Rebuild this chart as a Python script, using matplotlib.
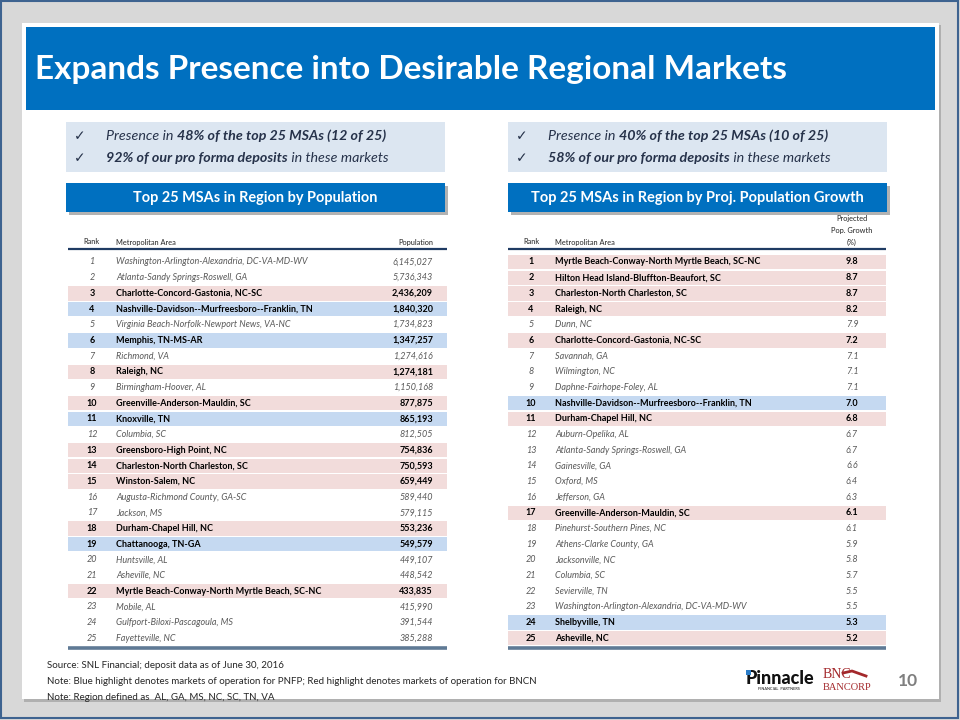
import matplotlib
matplotlib.use("Agg")
import matplotlib.pyplot as plt
from matplotlib.patches import Rectangle, FancyBboxPatch

# ---------------- data ----------------
title = "Expands Presence into Desirable Regional Markets"

pop_ranks = list(range(1, 26))
pop_areas = [
    "Washington-Arlington-Alexandria, DC-VA-MD-WV",
    "Atlanta-Sandy Springs-Roswell, GA",
    "Charlotte-Concord-Gastonia, NC-SC",
    "Nashville-Davidson--Murfreesboro--Franklin, TN",
    "Virginia Beach-Norfolk-Newport News, VA-NC",
    "Memphis, TN-MS-AR",
    "Richmond, VA",
    "Raleigh, NC",
    "Birmingham-Hoover, AL",
    "Greenville-Anderson-Mauldin, SC",
    "Knoxville, TN",
    "Columbia, SC",
    "Greensboro-High Point, NC",
    "Charleston-North Charleston, SC",
    "Winston-Salem, NC",
    "Augusta-Richmond County, GA-SC",
    "Jackson, MS",
    "Durham-Chapel Hill, NC",
    "Chattanooga, TN-GA",
    "Huntsville, AL",
    "Asheville, NC",
    "Myrtle Beach-Conway-North Myrtle Beach, SC-NC",
    "Mobile, AL",
    "Gulfport-Biloxi-Pascagoula, MS",
    "Fayetteville, NC",
]
pop_values = [6145027, 5736343, 2436209, 1840320, 1734823, 1347257, 1274616,
              1274181, 1150168, 877875, 865193, 812505, 754836, 750593, 659449,
              589440, 579115, 553236, 549579, 449107, 448542, 433835, 415990,
              391544, 385288]
# '' none, 'B' = PNFP (blue), 'R' = BNCN (red)
pop_highlight = ['', '', 'R', 'B', '', 'B', '', 'R', '', 'R', 'B', '', 'R', 'R',
                 'R', '', '', 'R', 'B', '', '', 'R', '', '', '']

growth_ranks = list(range(1, 26))
growth_areas = [
    "Myrtle Beach-Conway-North Myrtle Beach, SC-NC",
    "Hilton Head Island-Bluffton-Beaufort, SC",
    "Charleston-North Charleston, SC",
    "Raleigh, NC",
    "Dunn, NC",
    "Charlotte-Concord-Gastonia, NC-SC",
    "Savannah, GA",
    "Wilmington, NC",
    "Daphne-Fairhope-Foley, AL",
    "Nashville-Davidson--Murfreesboro--Franklin, TN",
    "Durham-Chapel Hill, NC",
    "Auburn-Opelika, AL",
    "Atlanta-Sandy Springs-Roswell, GA",
    "Gainesville, GA",
    "Oxford, MS",
    "Jefferson, GA",
    "Greenville-Anderson-Mauldin, SC",
    "Pinehurst-Southern Pines, NC",
    "Athens-Clarke County, GA",
    "Jacksonville, NC",
    "Columbia, SC",
    "Sevierville, TN",
    "Washington-Arlington-Alexandria, DC-VA-MD-WV",
    "Shelbyville, TN",
    "Asheville, NC",
]
growth_values = [9.8, 8.7, 8.7, 8.2, 7.9, 7.2, 7.1, 7.1, 7.1, 7.0, 6.8, 6.7, 6.7,
                 6.6, 6.4, 6.3, 6.1, 6.1, 5.9, 5.8, 5.7, 5.5, 5.5, 5.3, 5.2]
growth_highlight = ['R', 'R', 'R', 'R', '', 'R', '', '', '', 'B', 'R', '', '', '',
                    '', '', 'R', '', '', '', '', '', '', 'B', 'R']

bullets_left = [
    [("Presence in ", "normal"), ("48% of the top 25 MSAs (12 of 25)", "bold")],
    [("92% of our pro forma deposits", "bold"), (" in these markets", "normal")],
]
bullets_right = [
    [("Presence in ", "normal"), ("40% of the top 25 MSAs (10 of 25)", "bold")],
    [("58% of our pro forma deposits", "bold"), (" in these markets", "normal")],
]
header_left = "Top 25 MSAs in Region by Population"
header_right = "Top 25 MSAs in Region by Proj. Population Growth"
footnotes = [
    "Source: SNL Financial; deposit data as of June 30, 2016",
    "Note: Blue highlight denotes markets of operation for PNFP; Red highlight denotes markets of operation for BNCN",
    "Note: Region defined as  AL, GA, MS, NC, SC, TN, VA",
]
page_number = "10"

# ---------------- style ----------------
FONT = ["Lato", "DejaVu Sans"]
plt.rcParams['font.family'] = FONT
BLUE = "#0070C0"
BOX = "#DCE6F1"
RED_HL = "#F2DCDB"
BLUE_HL = "#C5D9F1"
NAVY = "#1F3B63"
BOTTOM = "#5F7A95"
TXT = "#26324A"

fig = plt.figure(figsize=(9.6, 7.2), dpi=100, facecolor="#D8D8D8")
ax = fig.add_axes([0, 0, 1, 1])
ax.set_xlim(0, 960)
ax.set_ylim(720, 0)
ax.axis('off')
renderer = fig.canvas.get_renderer()


def width_of(t):
    bb = t.get_window_extent(renderer=renderer)
    return bb.width


def fit_text(x, y, s, target_w, size_guess=10, **kw):
    t = ax.text(x, y, s, fontsize=size_guess, **kw)
    w = width_of(t)
    t.set_fontsize(size_guess * target_w / w)
    return t


def fit_size(s, target_w, **kw):
    t = ax.text(0, 0, s, fontsize=10, **kw)
    w = width_of(t)
    t.remove()
    return 10 * target_w / w


def rich_line(x, y, parts, size, color, style="italic"):
    cx = x
    for s, wgt in parts:
        t = ax.text(cx, y, s, fontsize=size, color=color, fontweight=wgt,
                    fontstyle=style, va='center', ha='left')
        cx += width_of(t)


# background / border
ax.add_patch(Rectangle((1, 1), 957, 717, fill=False, ec="#3E6390", lw=1.5, zorder=0))
ax.add_patch(Rectangle((24, 25), 917, 677, fc="#B0B0B0", ec='none', zorder=0.5))
ax.add_patch(Rectangle((22, 23), 917, 676, fc="white", ec='none', zorder=1))

# title bar
ax.add_patch(Rectangle((26, 27), 909, 83, fc=BLUE, ec='none', zorder=2))
fit_text(35, 70, title, 750, size_guess=24, color="white", fontweight='bold',
         va='center', ha='left', zorder=3)

# bullet boxes and header boxes
for (x0, x1, bullets, head) in [(66, 445, bullets_left, header_left),
                                (508, 887, bullets_right, header_right)]:
    ax.add_patch(Rectangle((x0, 122), x1 - x0, 50, fc=BOX, ec='none', zorder=2))
    for i, parts in enumerate(bullets):
        yy = 136 + i * 22
        ax.text(x0 + 14, yy, "\u2713", fontsize=10, color=TXT, va='center',
                ha='center', family=["DejaVu Sans"], zorder=3)
        rich_line(x0 + 40, yy, parts, 10.3, TXT)
    ax.add_patch(Rectangle((x0 + 3, 186), x1 - x0, 29, fc="#7F7F7F", ec='none',
                           alpha=0.6, zorder=2))
    ax.add_patch(Rectangle((x0, 183), x1 - x0, 29, fc=BLUE, ec='none', zorder=2.1))

fit_text((66 + 445) / 2, 198, header_left, 245, size_guess=11, color='white',
         fontweight='bold', ha='center', va='center', zorder=3)
fit_text((508 + 887) / 2, 198, header_right, 334, size_guess=11, color='white',
         fontweight='bold', ha='center', va='center', zorder=3)

# tables
ROW0 = 262.0
DY = 15.67
tsize = fit_size(pop_areas[0], 193, fontstyle='italic')
hsize = tsize * 0.82
hl_colors = {'R': RED_HL, 'B': BLUE_HL}


def draw_table(x0, x1, rank_x, area_x, val_x, val_ha, ranks, areas, vals, hls, fmt):
    for i, (r, a, v, h) in enumerate(zip(ranks, areas, vals, hls)):
        y = ROW0 + i * DY
        if h:
            ax.add_patch(Rectangle((x0, y - 7.0), x1 - x0, 14.2, fc=hl_colors[h],
                                   ec='none', zorder=2))
            kw = dict(fontweight='bold', color='black')
        else:
            kw = dict(fontstyle='italic', color='#595959')
        ax.text(rank_x, y, str(r), fontsize=tsize, ha='center', va='center', zorder=3, **kw)
        ax.text(area_x, y, a, fontsize=tsize, ha='left', va='center', zorder=3, **kw)
        ax.text(val_x, y, fmt(v), fontsize=tsize, ha=val_ha, va='center', zorder=3, **kw)
    ax.plot([x0, x1], [249, 249], color=NAVY, lw=1.6, zorder=3, solid_capstyle='butt')
    ax.plot([x0, x1], [648, 648], color=BOTTOM, lw=2.6, zorder=3, solid_capstyle='butt')


draw_table(68, 447, 92, 116, 433, 'right', pop_ranks, pop_areas, pop_values,
           pop_highlight, lambda v: f"{v:,}")
draw_table(508, 886, 531, 555, 852, 'center', growth_ranks, growth_areas, growth_values,
           growth_highlight, lambda v: f"{v:.1f}")

hkw = dict(fontsize=hsize, color='#333333', va='center', fontweight='medium')
ax.text(92, 242, "Rank", ha='center', **hkw)
ax.text(116, 242, "Metropolitan Area", ha='left', **hkw)
ax.text(433, 242, "Population", ha='right', **hkw)
ax.text(531, 242, "Rank", ha='center', **hkw)
ax.text(555, 242, "Metropolitan Area", ha='left', **hkw)
ax.text(852, 218, "Projected", ha='center', **hkw)
ax.text(852, 230, "Pop. Growth", ha='center', **hkw)
ax.text(852, 242, "(%)", ha='center', **hkw)

# footnotes
fsize = fit_size(footnotes[1], 494)
for i, s in enumerate(footnotes):
    ax.text(47, 666 + i * 15.5, s, fontsize=fsize, color='#262626', ha='left',
            va='center', zorder=3)

# logos (text approximations)
ax.text(746, 678, "Pinnacle", fontsize=13, fontweight='black', color='#111111',
        ha='left', va='center', zorder=3)
ax.text(779, 689.5, "FINANCIAL  PARTNERS", fontsize=2.8, color='#111111',
        ha='center', va='center', zorder=3)
ax.add_patch(Rectangle((746, 670), 5, 5, fc="#2A7CC7", ec='none', zorder=4))
ax.text(823, 675, "BNC", fontsize=10, family=["Liberation Serif"], color='#A3282B',
        ha='left', va='center', zorder=3)
ax.text(823, 688, "BANCORP", fontsize=7.5, family=["Liberation Serif"], color='#A3282B',
        ha='left', va='center', zorder=3)
ax.plot([843, 852, 866], [673, 671, 676], color='#A3282B', lw=2, zorder=3)

ax.text(908, 681, page_number, fontsize=12.5, fontweight='bold', color='#7F7F7F',
        ha='center', va='center', zorder=3)

fig.savefig("out.png", dpi=100, facecolor=fig.get_facecolor())
